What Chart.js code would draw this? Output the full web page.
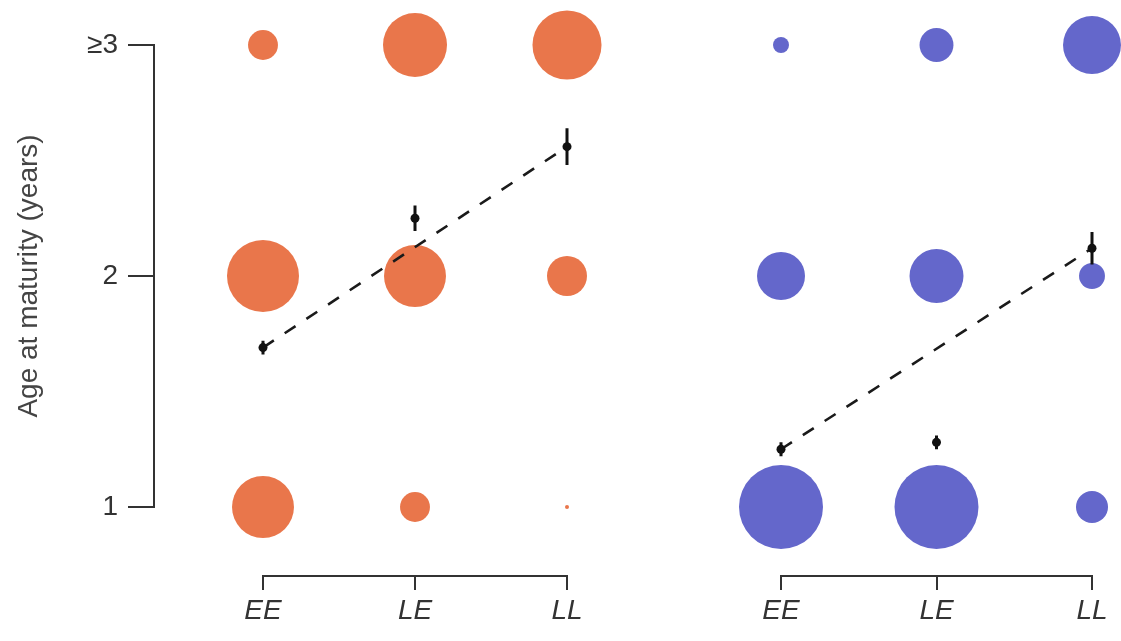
<!DOCTYPE html>
<html>
<head>
<meta charset="utf-8">
<script src="https://cdn.jsdelivr.net/npm/chart.js@4.4.1/dist/chart.umd.min.js"></script>
<style>
  html, body { margin: 0; padding: 0; background: #ffffff; }
  #wrap { position: relative; width: 1121px; height: 641px; overflow: hidden; }
  canvas { position: absolute; top: 0; }
</style>
</head>
<body>
<div id="wrap">
  <canvas id="panelRed" width="670" height="641" style="left:0"></canvas>
  <canvas id="panelBlue" width="451" height="641" style="left:670px"></canvas>
</div>
<script>
// Rearing groups along the x axis and age classes on the y axis
const groups = ['EE', 'LE', 'LL'];
const ageTicks = ['1', '2', '\u22653'];

// Number of fish maturing at each age, per group (EE, LE, LL)
const redAge1 = [240, 56, 1];
const redAge2 = [324, 240, 100];
const redAge3 = [56, 256, 298];
const blueAge1 = [441, 441, 64];
const blueAge2 = [144, 182, 42];
const blueAge3 = [16, 72, 210];

// Mean age at maturity and its standard error, per group
const redMean = [1.69, 2.25, 2.56];
const redErr = [0.03, 0.055, 0.08];
const blueMean = [1.25, 1.28, 2.12];
const blueErr = [0.03, 0.03, 0.07];

const FONT = "'Liberation Sans', Arial, Helvetica, sans-serif";
const INK = '#333333';
const RED = '#E9764B';
const BLUE = '#6467CB';
const BUBBLE_K = 2;   // bubble radius = K * sqrt(count), so area tracks count

function bubbleSet(counts, age, color) {
  return {
    type: 'bubble',
    data: counts.map((n, i) => ({ x: i, y: age, r: BUBBLE_K * Math.sqrt(n) })),
    backgroundColor: color,
    borderWidth: 0,
    clip: false,
    order: 3
  };
}

function panelDatasets(rows, mean, err, color) {
  const sets = rows.map((counts, k) => bubbleSet(counts, k + 1, color));
  // dashed trend from the first to the last group mean
  sets.push({
    type: 'line',
    data: [{ x: 0, y: mean[0] }, { x: mean.length - 1, y: mean[mean.length - 1] }],
    borderColor: '#1a1a1a',
    borderWidth: 2.6,
    borderDash: [13, 13],
    pointRadius: 0,
    fill: false,
    clip: false,
    order: 2
  });
  // vertical error bars, separated by null gaps
  const bars = [];
  mean.forEach((m, i) => {
    bars.push({ x: i, y: m - err[i] }, { x: i, y: m + err[i] }, { x: i + 0.5, y: null });
  });
  sets.push({
    type: 'line',
    data: bars,
    borderColor: '#111111',
    borderWidth: 3,
    pointRadius: 0,
    spanGaps: false,
    fill: false,
    clip: false,
    order: 1
  });
  sets.push({
    type: 'scatter',
    data: mean.map((m, i) => ({ x: i, y: m })),
    backgroundColor: '#111111',
    borderWidth: 0,
    pointRadius: 4.5,
    clip: false,
    order: 0
  });
  return sets;
}

function spacer(axis, position, size) {
  return {
    type: 'linear',
    axis: axis,
    position: position,
    weight: 0,
    display: true,
    ticks: { display: false },
    grid: { display: false },
    border: { display: false },
    afterFit: s => { if (axis === 'x') s.height = size; else s.width = size; }
  };
}

function xScale() {
  return {
    type: 'linear',
    position: 'bottom',
    weight: 1,
    min: 0,
    max: 2,
    ticks: {
      stepSize: 1,
      callback: v => groups[v],
      color: INK,
      padding: 4,
      font: { family: FONT, size: 28, style: 'italic' }
    },
    grid: { drawOnChartArea: false, tickLength: 14, color: INK, lineWidth: 2 },
    border: { color: INK, width: 2 },
    afterFit: s => { s.height = 65; }
  };
}

function makePanel(canvasId, rows, mean, err, color, showY, pad) {
  const yScale = {
    type: 'linear',
    position: 'left',
    weight: 1,
    min: 1,
    max: 3,
    display: showY,
    ticks: {
      stepSize: 1,
      callback: v => ageTicks[v - 1],
      color: INK,
      padding: 10,
      font: { family: FONT, size: 28 }
    },
    grid: { drawOnChartArea: false, tickLength: 26, color: INK, lineWidth: 2 },
    border: { color: INK, width: 2 },
    title: {
      display: true,
      text: 'Age at maturity (years)',
      color: '#444444',
      padding: { top: 12, bottom: 0 },
      font: { family: FONT, size: 28, lineHeight: 1.2 }
    }
  };
  const scales = { x: xScale(), xGap: spacer('x', 'bottom', 69), y: yScale };
  if (showY) {
    yScale.afterFit = s => { s.width = 154; };
    scales.yGap = spacer('y', 'left', 109);
  }

  return new Chart(document.getElementById(canvasId), {
    type: 'bubble',
    data: { datasets: panelDatasets(rows, mean, err, color) },
    options: {
      responsive: false,
      animation: false,
      events: [],
      layout: {
        autoPadding: false,
        padding: { left: pad.left, right: pad.right, top: 45, bottom: 0 }
      },
      plugins: { legend: { display: false }, tooltip: { enabled: false } },
      scales: scales
    }
  });
}

makePanel('panelRed', [redAge1, redAge2, redAge3], redMean, redErr, RED, true, { left: 0, right: 103 });
makePanel('panelBlue', [blueAge1, blueAge2, blueAge3], blueMean, blueErr, BLUE, false, { left: 111, right: 29 });
</script>
</body>
</html>
